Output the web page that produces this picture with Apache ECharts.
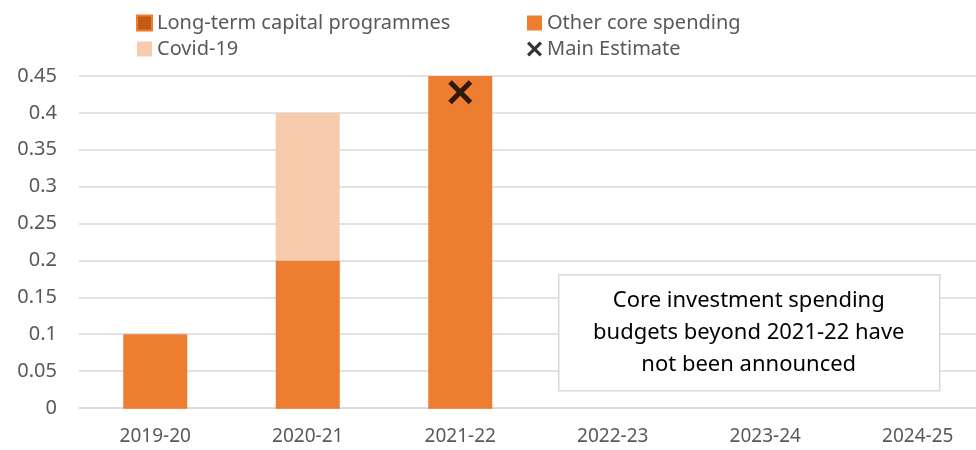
<!DOCTYPE html>
<html>
<head>
<meta charset="utf-8">
<script src="https://cdn.jsdelivr.net/npm/echarts@6/dist/echarts.min.js"></script>
<style>
  html, body { margin: 0; padding: 0; background: #fff; overflow: hidden; }
  #chart { width: 1000px; height: 450px; }
</style>
</head>
<body>
<div id="chart"></div>
<script>
// data
const years = ['2019-20', '2020-21', '2021-22', '2022-23', '2023-24', '2024-25'];
const longTerm = [0, 0, 0, null, null, null];
const otherCore = [0.1, 0.2, 0.45, null, null, null];
const covid = [null, 0.2, null, null, null, null];
const mainEstimate = [null, null, 0.428, null, null, null];
const yTicks = { min: 0, max: 0.45, step: 0.05 };

const cross = 'path://M0,3 L3,0 L10,7 L17,0 L20,3 L13,10 L20,17 L17,20 L10,13 L3,20 L0,17 L7,10 Z';
const font = 'Noto Sans, sans-serif';

// the plot runs past the right edge of the 976px window, as in the reference
const chart = echarts.init(document.getElementById('chart'));
chart.setOption({
  animation: false,
  textStyle: { fontFamily: font },
  grid: { left: 79, top: 76, width: 915, height: 332, containLabel: false },
  legend: [
    {
      orient: 'vertical', left: 131, top: 8, itemWidth: 15, itemHeight: 15, itemGap: 6,
      icon: 'rect',
      textStyle: { color: '#595959', fontSize: 20, fontFamily: font },
      data: ['Long-term capital programmes', 'Covid-19']
    },
    {
      orient: 'vertical', left: 522, top: 8, itemWidth: 15, itemHeight: 15, itemGap: 6,
      icon: 'rect',
      textStyle: { color: '#595959', fontSize: 20, fontFamily: font },
      data: ['Other core spending', { name: 'Main Estimate', icon: cross }]
    }
  ],
  xAxis: {
    type: 'category',
    data: years,
    axisLine: { lineStyle: { color: '#d9d9d9', width: 1.5 } },
    axisTick: { show: false },
    axisLabel: { color: '#595959', fontSize: 19, margin: 19 }
  },
  yAxis: {
    type: 'value',
    min: yTicks.min,
    max: yTicks.max,
    interval: yTicks.step,
    axisLine: { show: false },
    axisTick: { show: false },
    splitLine: { lineStyle: { color: '#d9d9d9', width: 1.5 } },
    axisLabel: {
      color: '#595959', fontSize: 20, margin: 22,
      formatter: v => String(Math.round(v * 100) / 100)
    }
  },
  series: [
    {
      name: 'Long-term capital programmes', type: 'bar', stack: 's', barWidth: 64,
      itemStyle: { color: '#c55a11', borderColor: '#ed7d31', borderWidth: 1 },
      data: longTerm
    },
    {
      name: 'Other core spending', type: 'bar', stack: 's', barWidth: 64,
      itemStyle: { color: '#ed7d31' },
      data: otherCore
    },
    {
      name: 'Covid-19', type: 'bar', stack: 's', barWidth: 64,
      itemStyle: { color: '#f8cbad' },
      data: covid
    },
    {
      name: 'Main Estimate', type: 'scatter', symbol: cross, symbolSize: 24,
      itemStyle: { color: '#000' },
      data: mainEstimate,
      z: 5
    }
  ],
  graphic: [
    {
      type: 'group', left: 558, top: 274, z: 100,
      children: [
        {
          type: 'rect', z: 100, shape: { x: 0, y: 0, width: 381, height: 116 },
          style: { fill: '#fff', stroke: '#d9d9d9', lineWidth: 1.5 }
        },
        {
          type: 'text', z: 101, x: 190, y: 58,
          style: {
            text: 'Core investment spending\nbudgets beyond 2021-22 have\nnot been announced',
            fill: '#000', fontSize: 22, fontFamily: font, lineHeight: 32,
            align: 'center', verticalAlign: 'middle'
          }
        }
      ]
    }
  ]
});
</script>
</body>
</html>
